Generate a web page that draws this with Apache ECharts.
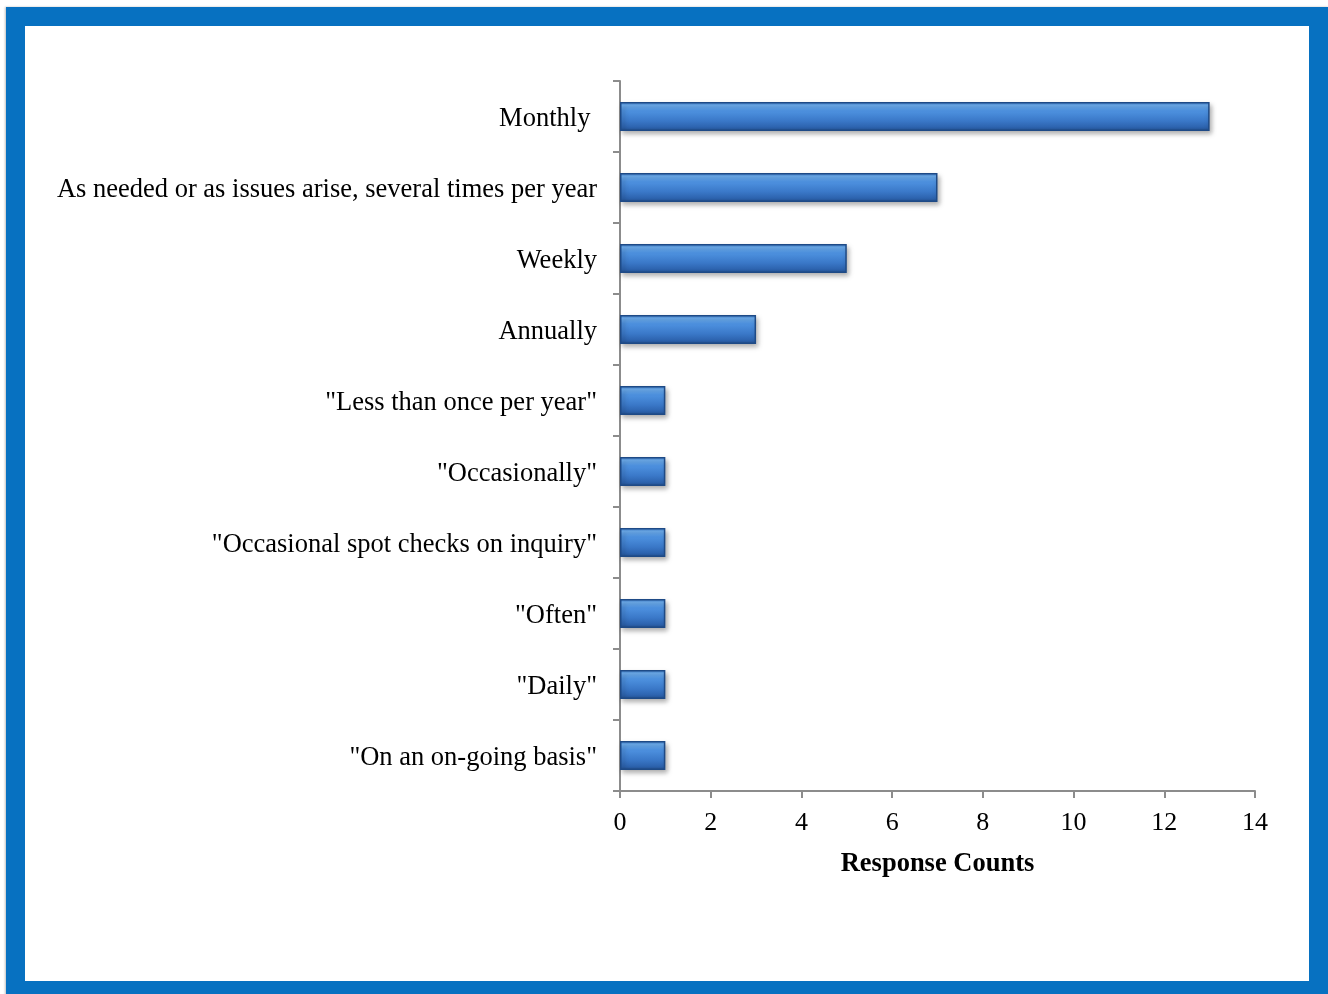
<!DOCTYPE html>
<html>
<head>
<meta charset="utf-8">
<script src="https://cdn.jsdelivr.net/npm/echarts@6/dist/echarts.min.js"></script>
<style>
  html, body { margin: 0; padding: 0; background: #ffffff; overflow: hidden; }
  #frame {
    position: absolute; left: 6px; top: 7px; width: 1323px; height: 994px;
    box-sizing: border-box; border: 19px solid #0771c1;
    border-right-width: 20px; border-bottom-width: 20px;
    box-shadow: -1px 0 2px rgba(0,0,0,0.25);
  }
  #chart { position: absolute; left: 0; top: 0; width: 1328px; height: 994px; }
</style>
</head>
<body>
<div id="frame"></div>
<div id="chart"></div>
<script>
// Survey: how often responses occur
const categories = [
  'Monthly ',
  'As needed or as issues arise, several times per year',
  'Weekly',
  'Annually',
  '"Less than once per year"',
  '"Occasionally"',
  '"Occasional spot checks on inquiry"',
  '"Often"',
  '"Daily"',
  '"On an on-going basis"'
];
const counts = [13, 7, 5, 3, 1, 1, 1, 1, 1, 1];
const xTicks = { min: 0, max: 14, interval: 2 };
const xTitle = 'Response Counts';

const chart = echarts.init(document.getElementById('chart'), null, { renderer: 'canvas' });
const serif = '"Liberation Serif", "DejaVu Serif", serif';
const axisGray = '#8c8c8c';

chart.setOption({
  animation: false,
  grid: { left: 620, right: 73, top: 81, bottom: 203, containLabel: false },
  xAxis: {
    type: 'value',
    min: xTicks.min, max: xTicks.max, interval: xTicks.interval,
    name: xTitle,
    nameLocation: 'middle',
    nameGap: 60,
    nameTextStyle: { fontFamily: serif, fontSize: 26.5, fontWeight: 'bold', color: '#000' },
    axisLine: { show: true, lineStyle: { color: axisGray, width: 2 } },
    axisTick: { show: true, length: 7, lineStyle: { color: axisGray, width: 2 } },
    axisLabel: { fontFamily: serif, fontSize: 26, color: '#000', margin: 19 },
    splitLine: { show: false }
  },
  yAxis: {
    type: 'category',
    inverse: true,
    data: categories,
    axisLine: { show: true, lineStyle: { color: axisGray, width: 2 } },
    axisTick: { show: true, length: 7, lineStyle: { color: axisGray, width: 2 } },
    axisLabel: {
      margin: 23,
      formatter: (v) => '{c|' + v + '}',
      rich: {
        c: { fontFamily: serif, fontSize: 26.5, color: '#000', padding: [6, 0, 0, 0] }
      }
    },
    splitLine: { show: false }
  },
  series: [{
    type: 'bar',
    data: counts,
    barCategoryGap: '59%',
    itemStyle: {
      color: new echarts.graphic.LinearGradient(0, 0, 0, 1, [
        { offset: 0, color: '#3d7fcf' },
        { offset: 0.12, color: '#6fb0f2' },
        { offset: 0.3, color: '#4e92e0' },
        { offset: 0.65, color: '#3a78c8' },
        { offset: 0.88, color: '#2c62ad' },
        { offset: 1, color: '#23508e' }
      ]),
      borderColor: '#1e4a86',
      borderWidth: 1.5,
      shadowColor: 'rgba(0,0,0,0.35)',
      shadowBlur: 5,
      shadowOffsetX: 2,
      shadowOffsetY: 3
    }
  }]
});
</script>
</body>
</html>
